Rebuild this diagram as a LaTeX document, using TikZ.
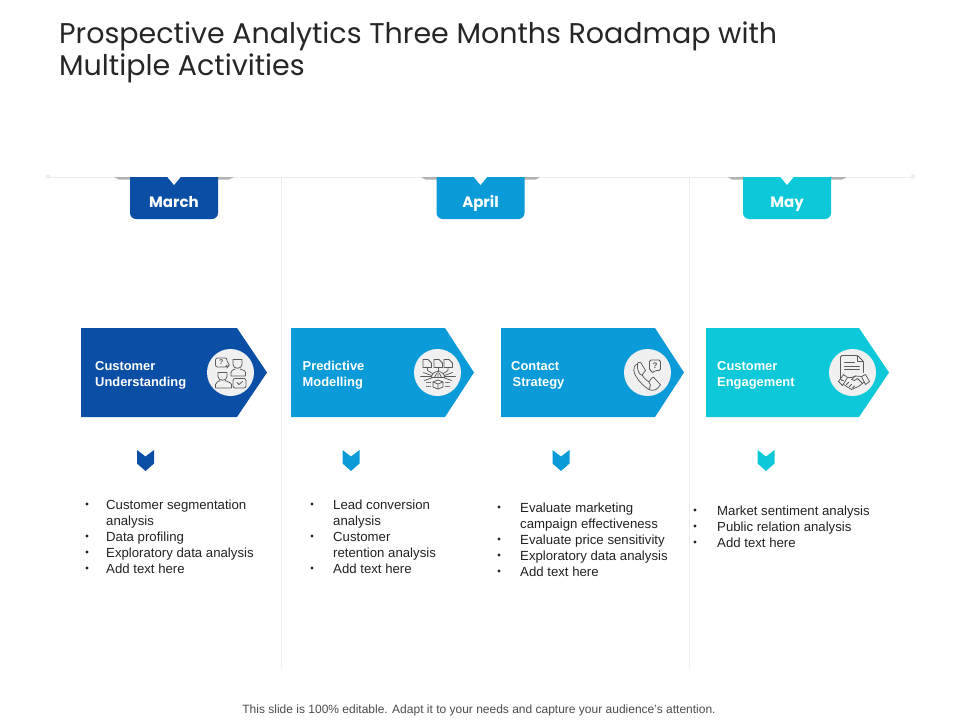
\documentclass[tikz,border=0pt]{standalone}
\usepackage{fontspec}
\setmainfont{Liberation Sans}
\newfontfamily\titlefont{Poppins}
\definecolor{cdark}{HTML}{0A4EA6}
\definecolor{cmid}{HTML}{0B9BD8}
\definecolor{ccyan}{HTML}{0CC8D8}
\definecolor{rulec}{HTML}{EDEDED}
\definecolor{iconc}{HTML}{5A5A5A}
\definecolor{circc}{HTML}{F0F0F0}
\definecolor{bodyc}{HTML}{222222}
\tikzset{
  titletext/.style={anchor=base west,inner sep=0pt,font=\titlefont\fontsize{28.5}{29}\selectfont,text=black!85},
  tabtext/.style={anchor=base,inner sep=0pt,text=white,font=\titlefont\fontsize{15}{15}\selectfont\bfseries},
  boxtext/.style={anchor=base west,inner sep=0pt,text=white,font=\fontsize{12.9}{13}\selectfont\bfseries},
  bodytext/.style={anchor=base west,inner sep=0pt,text=bodyc,font=\fontsize{13.2}{14}\selectfont},
  dot/.style={circle,fill=bodyc,inner sep=0pt,minimum size=3.2pt},
  iconline/.style={draw=iconc,line width=.75pt,line join=round,line cap=round},
  circ/.style={circle,fill=circc,inner sep=0pt,minimum size=47pt},
}
\newcommand{\arrowbox}[4]{\fill[#4] (#1,328) -- (#2,328) -- (#3,372.5) -- (#2,417) -- (#1,417) -- cycle;}
\newcommand{\chev}[2]{\fill[#2] (#1-8.5,450) -- (#1,456.5) -- (#1+8.5,450) -- (#1+8.5,463.5) -- (#1,471) -- (#1-8.5,463.5) -- cycle;}
\newcommand{\tabshape}[2]{%
  \fill[gray!60] (#1-60,177) -- (#1+60,177) -- (#1+55,179.5) -- (#1-55,179.5) -- cycle;
  \fill[#2,rounded corners=6pt] (#1-44,170) -- (#1-44,219) -- (#1+44,219) -- (#1+44,170) -- cycle;
  \fill[white] (#1-50,165) rectangle (#1+50,177);
  \fill[white] (#1-7,176.5) -- (#1+7,176.5) -- (#1,185) -- cycle;}
\newcommand{\li}[5]{%
  \node[dot] (#1b) at (#2,#4) {};
  \node[bodytext] (#1) at (#3,#4+5) {#5};}
\newcommand{\lc}[3]{\node[bodytext] (#1) at (#2+5) {#3};}
\begin{document}
\begin{tikzpicture}[x=1pt,y=-1pt]
\useasboundingbox (0,0) rectangle (960,720);
\fill[white] (0,0) rectangle (960,720);
\node[titletext] (t1) at (59,43) {Prospective Analytics Three Months Roadmap with};
\node[titletext] (t2) at (59,75) {Multiple Activities};
\tabshape{174}{cdark}
\tabshape{480.5}{cmid}
\tabshape{787}{ccyan}
\draw[rulec,line width=.8pt] (47,177) -- (114,177) (234,177) -- (421,177) (540,177) -- (727,177) (847,177) -- (914,177);
\fill[rulec] (48,176.5) circle (2.2) (913,176.5) circle (2.2);
\draw[rulec,line width=.8pt] (281.5,177) -- (281.5,668);
\draw[rulec,line width=.8pt] (689.5,177) -- (689.5,668);
\node[tabtext] (m1) at (174,207) {March};
\node[tabtext] (m2) at (480.5,207) {April};
\node[tabtext] (m3) at (787,207) {May};
\arrowbox{81}{237}{267}{cdark}
\arrowbox{291}{445}{474}{cmid}
\arrowbox{501}{655}{684}{cmid}
\arrowbox{706}{859}{889}{ccyan}
\node[boxtext] (b1a) at (95,370) {Customer};
\node[boxtext] (b1b) at (95,386) {Understanding};
\node[boxtext] (b2a) at (302.5,370) {Predictive};
\node[boxtext] (b2b) at (302.5,386) {Modelling};
\node[boxtext] (b3a) at (511,370) {Contact};
\node[boxtext] (b3b) at (512.5,386) {Strategy};
\node[boxtext] (b4a) at (717,370) {Customer};
\node[boxtext] (b4b) at (717,386) {Engagement};
\node[circ] (c1) at (230.5,372.5) {};
\node[circ] (c2) at (437.5,372.5) {};
\node[circ] (c3) at (647.5,372.5) {};
\node[circ] (c4) at (852.5,372.5) {};
% icon 1
\begin{scope}[shift={(230.5,372.5)},iconline]
  \draw[rounded corners=2pt] (-15,-14.5) -- (-3.5,-14.5) -- (-3.5,-9.5) -- (0,-7.5) -- (-3.5,-6.5) -- (-3.5,-5.5) -- (-15,-5.5) -- cycle;
  \node[inner sep=0pt,text=iconc,font=\fontsize{7}{7}\selectfont\bfseries] (q1) at (-9.3,-10) {?};
  \draw (2.5,-13) -- (11.5,-13) -- (11.5,-8) .. controls (11.5,-3) and (2.5,-3) .. (2.5,-8) -- cycle;
  \draw (0.5,3.5) -- (0.5,0) .. controls (0.5,-2) and (3,-3) .. (4.5,-3.5) (9.5,-3.5) .. controls (11,-3) and (15,-2) .. (15,0) -- (15,3.5) -- (0.5,3.5);
  \draw (-12.5,0) -- (-3.5,0) -- (-3.5,4) .. controls (-3.5,9) and (-12.5,9) .. (-12.5,4) -- cycle;
  \draw (-15,15.5) -- (-15,12) .. controls (-15,10) and (-12,9) .. (-10.5,8) (-5.5,8) .. controls (-4,9) and (1,10) .. (1,12) -- (1,15.5) -- (-15,15.5);
  \draw[rounded corners=2pt] (2.5,6) rectangle (15.5,15.5);
  \draw (6.5,10) -- (8.5,12) -- (12,9);
\end{scope}
% icon 2
\begin{scope}[shift={(437.5,372.5)},iconline]
  \foreach \dx in {-14.5,-3.5,6.5}{
    \draw (\dx,-13) -- (\dx+5,-13) -- (\dx+8.5,-9.5) -- (\dx+8.5,-5) -- (\dx,-5) -- cycle;
  }
  \draw (-10,-5) -- (-10,-2) -- (-5,1);
  \draw (0.5,-5) -- (0.5,-1);
  \draw (10.5,-5) -- (10.5,-2) -- (6,1);
  \draw (-6,5) .. controls (-6,-3) and (7,-3) .. (7,5) -- cycle;
  \draw (0.5,-1) -- (0.5,5) (-3,5) -- (-1,1) (4,5) -- (2,1);
  \draw (-6,3) -- (-14,0) (-6,4) -- (-17,4) (-5,5) -- (-13,8);
  \draw (7,3) -- (15,0) (7,4) -- (18,4) (6,5) -- (14,8);
  \draw (-4.5,9.5) -- (0.5,7.5) -- (5.5,9.5) -- (5.5,14.5) -- (0.5,16.5) -- (-4.5,14.5) -- cycle;
  \draw (-4.5,9.5) -- (0.5,11.5) -- (5.5,9.5) (0.5,11.5) -- (0.5,16.5);
  \draw[densely dotted] (-11,10) -- (-7,10) (-11,14) -- (-7,14) (8,10) -- (12,10) (8,14) -- (12,14);
\end{scope}
% icon 3
\begin{scope}[shift={(647.5,372.5)},iconline]
  \draw (-7,-10.3) .. controls (-9,-10.5) and (-10,-9.5) .. (-10,-8.7)
     .. controls (-13,-7) and (-14,-5) .. (-13.7,-2)
     .. controls (-13,2) and (-11,5) .. (-8.7,8)
     .. controls (-5,12) and (-2,15) .. (1.3,17)
     .. controls (3,18) and (6,18) .. (8,17.3)
     .. controls (10,16) and (12,14) .. (13,12.3)
     -- (6.3,5) .. controls (5,4) and (3,7) .. (1.3,9.3)
     .. controls (-1,8) and (-4,5) .. (-5.3,2.7)
     .. controls (-5,1) and (-3,0) .. (-2,-2) -- cycle;
  \draw (-10,-8.7) .. controls (-11,-3) and (-8,3) .. (-5.3,2.7);
  \draw (1.3,17) .. controls (3,13) and (4,11) .. (1.3,9.3);
  \draw[rounded corners=1.5pt] (2,-12.5) -- (13,-12.5) -- (13,-2) -- (7.5,-2) -- (4.5,1) -- (4.5,-2) -- (2,-2) -- cycle;
  \node[inner sep=0pt,text=iconc,font=\fontsize{8}{8}\selectfont\bfseries] (q3) at (7.5,-7.2) {?};
\end{scope}
% icon 4
\begin{scope}[shift={(852.5,372.5)},iconline]
  \draw[rounded corners=1.5pt] (-9,8) -- (-12,8) -- (-12,-17) -- (5,-17) -- (11,-11) -- (11,0);
  \draw (5,-17) -- (5,-11) -- (11,-11);
  \draw (-8,-10) -- (2,-10) (-8,-6.5) -- (7,-6.5) (-8,-3) -- (7,-3);
  \draw (-14,9) -- (-9,2) -- (-5,5) -- (-10,13) -- cycle;
  \draw (17,9) -- (13,2) -- (9,4) -- (13,12) -- cycle;
  \draw (-5,5) -- (-1,5) -- (3,3.5) -- (9,4);
  \draw (-9,12) -- (-1,17) -- (6,14) -- (11,10);
  \draw (3,3.5) -- (-1,7) -- (2,8) -- (5,6) -- (10,11);
  \draw (-6,12) -- (-4,10) (-3,14) -- (-1,12) (0,15.5) -- (2,13.5);
\end{scope}
\chev{145.5}{cdark}
\chev{351}{cmid}
\chev{561}{cmid}
\chev{766}{ccyan}
\li{a1}{87}{106}{504}{Customer segmentation}
\lc{a1c}{106,520}{analysis}
\li{a2}{87}{106}{536}{Data profiling}
\li{a3}{87}{106}{552}{Exploratory data analysis}
\li{a4}{87}{106}{568}{Add text here}
\li{d1}{312}{333}{504}{Lead conversion}
\lc{d1c}{333,520}{analysis}
\li{d2}{312}{333}{536}{Customer}
\lc{d2c}{333,552}{retention analysis}
\li{d3}{312}{333}{568}{Add text here}
\li{e1}{499}{520}{507}{Evaluate\hspace{.28em}marketing}
\lc{e1c}{520,523}{campaign effectiveness}
\li{e2}{499}{520}{539}{Evaluate price sensitivity}
\li{e3}{499}{520}{555}{Exploratory data analysis}
\li{e4}{499}{520}{571}{Add text here}
\li{f1}{695}{717}{510}{Market sentiment analysis}
\li{f2}{695}{717}{526}{Public relation analysis}
\li{f3}{695}{717}{542}{Add text here}
\node[inner sep=0pt,text=black!70,font=\fontsize{12}{13}\selectfont] (foot) at (479,710) {This slide is 100\% editable. Adapt it to your needs and capture your audience's attention.};
\end{tikzpicture}
\end{document}
